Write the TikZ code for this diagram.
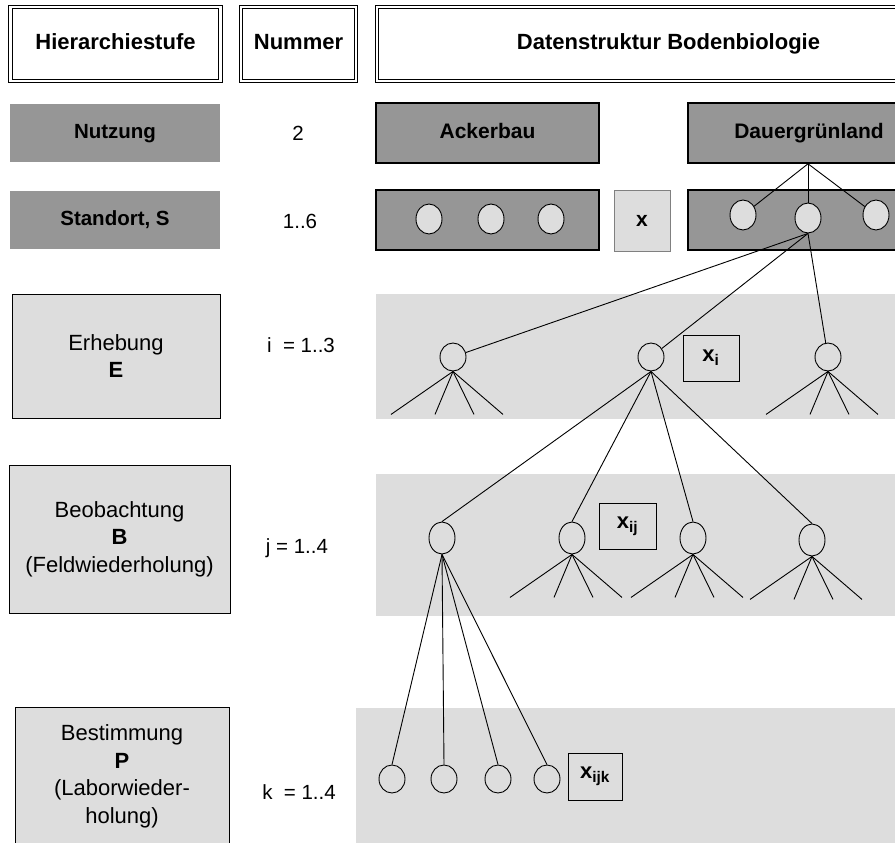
\documentclass[tikz,border=0pt]{standalone}
\usepackage{fontspec}
\setmainfont{Liberation Sans}
\usetikzlibrary{shapes.geometric}
\definecolor{darkbox}{HTML}{969696}
\definecolor{lightbox}{HTML}{DDDDDD}
\tikzset{
    head/.style={draw,line width=1.2pt,double,double distance=2.5pt,inner sep=0pt,
        text height=16pt,text depth=4pt,font=\fontsize{22}{26}\selectfont\bfseries},
    level/.style={fill=darkbox,inner sep=0pt,minimum width=210pt,minimum height=58pt,
        text height=15pt,text depth=4pt,font=\fontsize{20.5}{24}\selectfont\bfseries},
    usage/.style={draw,line width=1.6pt,fill=darkbox,inner sep=0pt,minimum height=60pt,
        text height=15pt,text depth=4pt,font=\fontsize{21}{24}\selectfont\bfseries},
    stage/.style={draw,line width=0.8pt,fill=lightbox,inner sep=0pt,align=center,
        font=\fontsize{22}{27.5}\selectfont},
    num/.style={font=\fontsize{20.5}{24}\selectfont},
    site/.style={ellipse,draw,fill=lightbox,inner sep=0pt,minimum width=26pt,minimum height=30pt},
    unit/.style={ellipse,draw,inner sep=0pt,minimum width=26pt,minimum height=28pt},
    valbox/.style={draw,line width=1pt,inner sep=0pt,font=\fontsize{22}{24}\selectfont\bfseries}
}
\begin{document}
\begin{tikzpicture}[x=1pt,y=-1pt,line width=0.9pt]
    \clip (0,0) rectangle (895,843);
    \fill[lightbox] (376,294) rectangle (895,419);
    \fill[lightbox] (376,474) rectangle (895,616);
    \fill[lightbox] (356,708) rectangle (895,843);

    \node[head,minimum width=210pt,minimum height=74pt] (hier) at (115.5,44) {Hierarchiestufe};
    \node[head,minimum width=115pt,minimum height=74pt] (nr) at (298.5,44) {Nummer};
    \node[head,minimum width=583pt,minimum height=74pt] (data) at (668.5,44) {Datenstruktur Bodenbiologie};

    \node[level] (nutz) at (115,133) {Nutzung};
    \node[level] (stand) at (115,220) {Standort, S};
    \node[stage,minimum width=208pt,minimum height=124pt] (erh) at (116,356) {Erhebung\\\textbf{E}};
    \node[stage,minimum width=221pt,minimum height=148pt] (beob) at (119.5,539)
        {Beobachtung\\\textbf{B}\\(Feldwiederholung)};
    \node[stage,minimum width=214pt,minimum height=139pt] (best) at (122,776.5)
        {Bestimmung\\\textbf{P}\\(Laborwieder-\\holung)};

    \node[num] (n1) at (298,133) {2};
    \node[num] (n2) at (300,221) {1..6};
    \node[num] (n3) at (301,345) {i~~= 1..3};
    \node[num] (n4) at (297,548) {j = 1..4};
    \node[num] (n5) at (299,792) {k~~= 1..4};

    \node[usage,minimum width=223pt] (acker) at (487.5,133) {Ackerbau};
    \node[usage,minimum width=242pt] (dauer) at (809,133) {Dauergrünland};
    \node[usage,minimum width=223pt] (asite) at (487.5,220) {};
    \node[usage,minimum width=242pt] (dsite) at (809,220) {};
    \node[draw=gray,line width=0.8pt,fill=lightbox,minimum width=56pt,minimum height=61pt,
        inner sep=0pt,font=\fontsize{21}{24}\selectfont\bfseries] (xs) at (642,220.5) {x};

    \foreach \x [count=\k] in {429,491,551}
    {
        \node[site] (as\k) at (\x,219) {};
    }
    \node[site] (ds1) at (743,215) {};
    \node[site] (ds2) at (808,218) {};
    \node[site] (ds3) at (876,215) {};

    \foreach \x [count=\k] in {453,651,828}
    {
        \node[unit] (e\k) at (\x,357) {};
    }
    \foreach \x/\y [count=\k] in {442/538,572/538,693/538,812/540}
    {
        \node[unit,minimum height=32pt] (b\k) at (\x,\y) {};
    }
    \foreach \x [count=\k] in {392,444,498,547}
    {
        \node[unit] (p\k) at (\x,779) {};
    }

    \node[valbox,minimum width=56pt,minimum height=46pt] (xi) at (711,358) {x\textsubscript{i}};
    \node[valbox,minimum width=57pt,minimum height=46pt] (xij) at (627.5,526) {x\textsubscript{ij}};
    \node[valbox,minimum width=54pt,minimum height=47pt] (xijk) at (595,776.5) {x\textsubscript{ijk}};

    \foreach \k in {1,2,3}
    {
        \draw (dauer.south -| ds2) -- (ds\k);
        \draw (ds2.south) -- (e\k);
    }
    \foreach \k in {1,...,4}
    {
        \draw (e2.south) -- (b\k.north);
        \draw (b1.south) -- (p\k.north);
    }
    \foreach \n in {e1,e3,b2,b3,b4}
    {
        \foreach \dx [count=\k] in {-62,-18,21,50}
        {
            \path (\n.south) ++(\dx,43) coordinate (\n-\k);
            \draw (\n.south) -- (\n-\k);
        }
    }
\end{tikzpicture}
\end{document}
